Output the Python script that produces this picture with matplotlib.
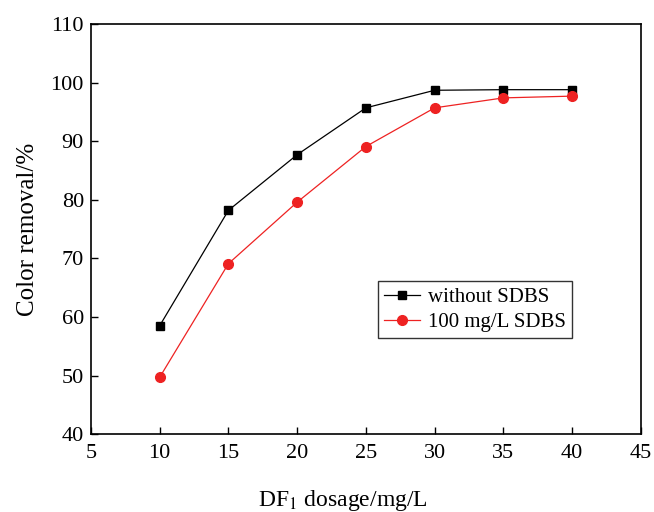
import matplotlib
matplotlib.use("Agg")
import matplotlib.pyplot as plt

# ── Data ──────────────────────────────────────────────────────────────────
dosage = [10, 15, 20, 25, 30, 35, 40]
without_sdbs = [58.5, 78.2, 87.7, 95.7, 98.7, 98.8, 98.8]
with_sdbs = [49.7, 69.1, 79.6, 89.1, 95.7, 97.4, 97.7]
x_ticks = [5, 10, 15, 20, 25, 30, 35, 40, 45]
y_ticks = [40, 50, 60, 70, 80, 90, 100, 110]

plt.rcParams["font.family"] = ["Liberation Serif", "DejaVu Serif"]
plt.rcParams["mathtext.fontset"] = "stix"

fig = plt.figure(figsize=(6.54, 5.12), dpi=100)
ax = fig.add_axes([0.139, 0.152, 0.841, 0.801])

ax.plot(dosage, without_sdbs, color="black", marker="s", markersize=6,
        linewidth=0.9, label="without SDBS")
ax.plot(dosage, with_sdbs, color="#ee2222", marker="o", markersize=7,
        linewidth=0.9, label="100 mg/L SDBS")

ax.set_xlim(5, 45)
ax.set_ylim(40, 110)
ax.set_xticks(x_ticks)
ax.set_yticks(y_ticks)
ax.tick_params(direction="in", labelsize=16, length=5, width=1)
ax.tick_params(axis="x", pad=7)
ax.tick_params(axis="y", pad=5)
for s in ax.spines.values():
    s.set_linewidth(1.2)

ax.set_xlabel(r"DF$_1$ dosage/mg/L", fontsize=17)
ax.xaxis.set_label_coords(0.458, -0.132)
ax.set_ylabel("Color removal/%", fontsize=18, labelpad=8)

leg = ax.legend(loc="upper left", bbox_to_anchor=(0.522, 0.373), fontsize=15,
                frameon=True, fancybox=False, edgecolor="black",
                handlelength=1.7, handletextpad=0.4, borderpad=0.3,
                labelspacing=0.25, borderaxespad=0)
leg.get_frame().set_linewidth(1.0)

fig.savefig("out.png", dpi=100)
plt.close(fig)
